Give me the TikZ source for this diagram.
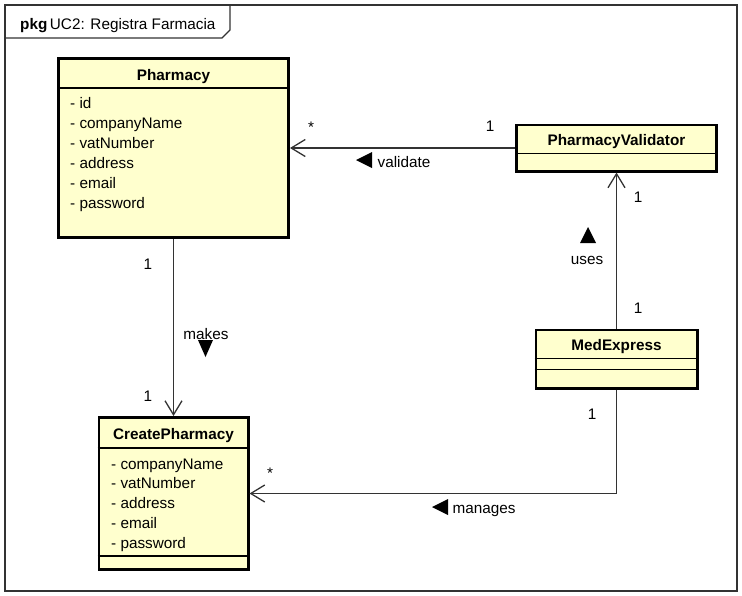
\documentclass[tikz,border=0pt]{standalone}
\usepackage{fontspec}
\setmainfont{Liberation Sans}
\usepackage{tikz}
\usetikzlibrary{positioning,arrows.meta}
\definecolor{classfill}{RGB}{255,255,206}
\definecolor{linegray}{RGB}{51,51,51}

\begin{document}
\begin{tikzpicture}[x=1pt, y=-1pt, font=\fontsize{15.3}{20}\selectfont,
    classbox/.style={draw, line width=2.6pt, fill=classfill, inner sep=0pt},
    classname/.style={font=\fontsize{15.3}{20}\selectfont\bfseries, anchor=base, inner sep=0pt},
    attr/.style={anchor=base west, inner sep=0pt},
    mult/.style={anchor=base, inner sep=0pt},
    sep/.style={line width=1.5pt},
    assoc/.style={draw=linegray, line width=1.3pt, -{Straight Barb[length=14pt, width=17pt]}}]

    \useasboundingbox (0,0) rectangle (742,595);
    % package frame
    \draw[line width=1.2pt, linegray] (5,5) rectangle (737,591);
    \draw[line width=1.2pt, linegray] (5,38) -- (222,38) -- (230,30) -- (230,5);
    \node[anchor=base west, inner sep=0pt] (pkgname) at (20,29) {\textbf{pkg}\,UC2: Registra Farmacia};

    % classes
    \node[classbox, minimum width=230.4pt, minimum height=179.4pt] (pharmacy) at (173.5,148) {};
    \node[classbox, minimum width=200.4pt, minimum height=46.4pt, right=225pt of pharmacy] (validator) {};
    \node[classbox, minimum width=161.4pt, minimum height=58.4pt, below=156pt of validator] (medexpress) {};
    \node[classbox, minimum width=149.4pt, minimum height=152.4pt, below=177pt of pharmacy] (createpharmacy) {};

    \node[classname] (pharmacytitle) at ([yshift=-23pt]pharmacy.north) {Pharmacy};
    \node[classname] (validatortitle) at ([yshift=-21.5pt]validator.north) {PharmacyValidator};
    \node[classname] (medexpresstitle) at ([yshift=-22pt]medexpress.north) {MedExpress};
    \node[classname] (createpharmacytitle) at ([yshift=-23.5pt]createpharmacy.north) {CreatePharmacy};

    \draw[sep] ([yshift=-31pt]pharmacy.north west) -- ([yshift=-31pt]pharmacy.north east);
    \draw[sep] ([yshift=-30pt]validator.north west) -- ([yshift=-30pt]validator.north east);
    \draw[sep] ([yshift=-30pt]medexpress.north west) -- ([yshift=-30pt]medexpress.north east);
    \draw[sep] ([yshift=-41pt]medexpress.north west) -- ([yshift=-41pt]medexpress.north east);
    \draw[sep] ([yshift=-32pt]createpharmacy.north west) -- ([yshift=-32pt]createpharmacy.north east);
    \draw[sep] ([yshift=15pt]createpharmacy.south west) -- ([yshift=15pt]createpharmacy.south east);

    \foreach \a [count=\i] in {id, companyName, vatNumber, address, email, password}
      \node[attr] (pharmacyattr\i) at (70, 88+20*\i) {- \a};
    \foreach \a [count=\i] in {companyName, vatNumber, address, email, password}
      \node[attr] (createattr\i) at (111, 449.25+19.75*\i) {- \a};

    % associations
    \draw[assoc] (validator.west) -- (validator.west -| pharmacy.east);
    \draw[assoc] (medexpress.north) -- (medexpress.north |- validator.south);
    \draw[assoc] (pharmacy.south) -- (pharmacy.south |- createpharmacy.north);
    \draw[assoc] (medexpress.south) |- (createpharmacy.east);

    % reading direction
    \fill (372,152) -- (372,168) -- (356,160) -- cycle;
    \fill (580,243) -- (596,243) -- (588,227) -- cycle;
    \fill (198,340) -- (213,340) -- (205.5,357) -- cycle;
    \fill (448,499) -- (448,515) -- (432,507) -- cycle;

    \node[mult] (validatemany) at (311,132) {*};
    \node[mult] (validateone) at (490,131.5) {1};
    \node[mult] (validatelbl) at (404,167.5) {validate};
    \node[mult] (usestop) at (638,202.5) {1};
    \node[mult] (useslbl) at (587,264) {uses};
    \node[mult] (usesbottom) at (638,313) {1};
    \node[mult] (makestop) at (148,269.5) {1};
    \node[mult] (makeslbl) at (206,339) {makes};
    \node[mult] (makesbottom) at (148,401) {1};
    \node[mult] (managesone) at (592,419) {1};
    \node[mult] (managesmany) at (270,478.5) {*};
    \node[mult] (manageslbl) at (484,513) {manages};
\end{tikzpicture}
\end{document}
